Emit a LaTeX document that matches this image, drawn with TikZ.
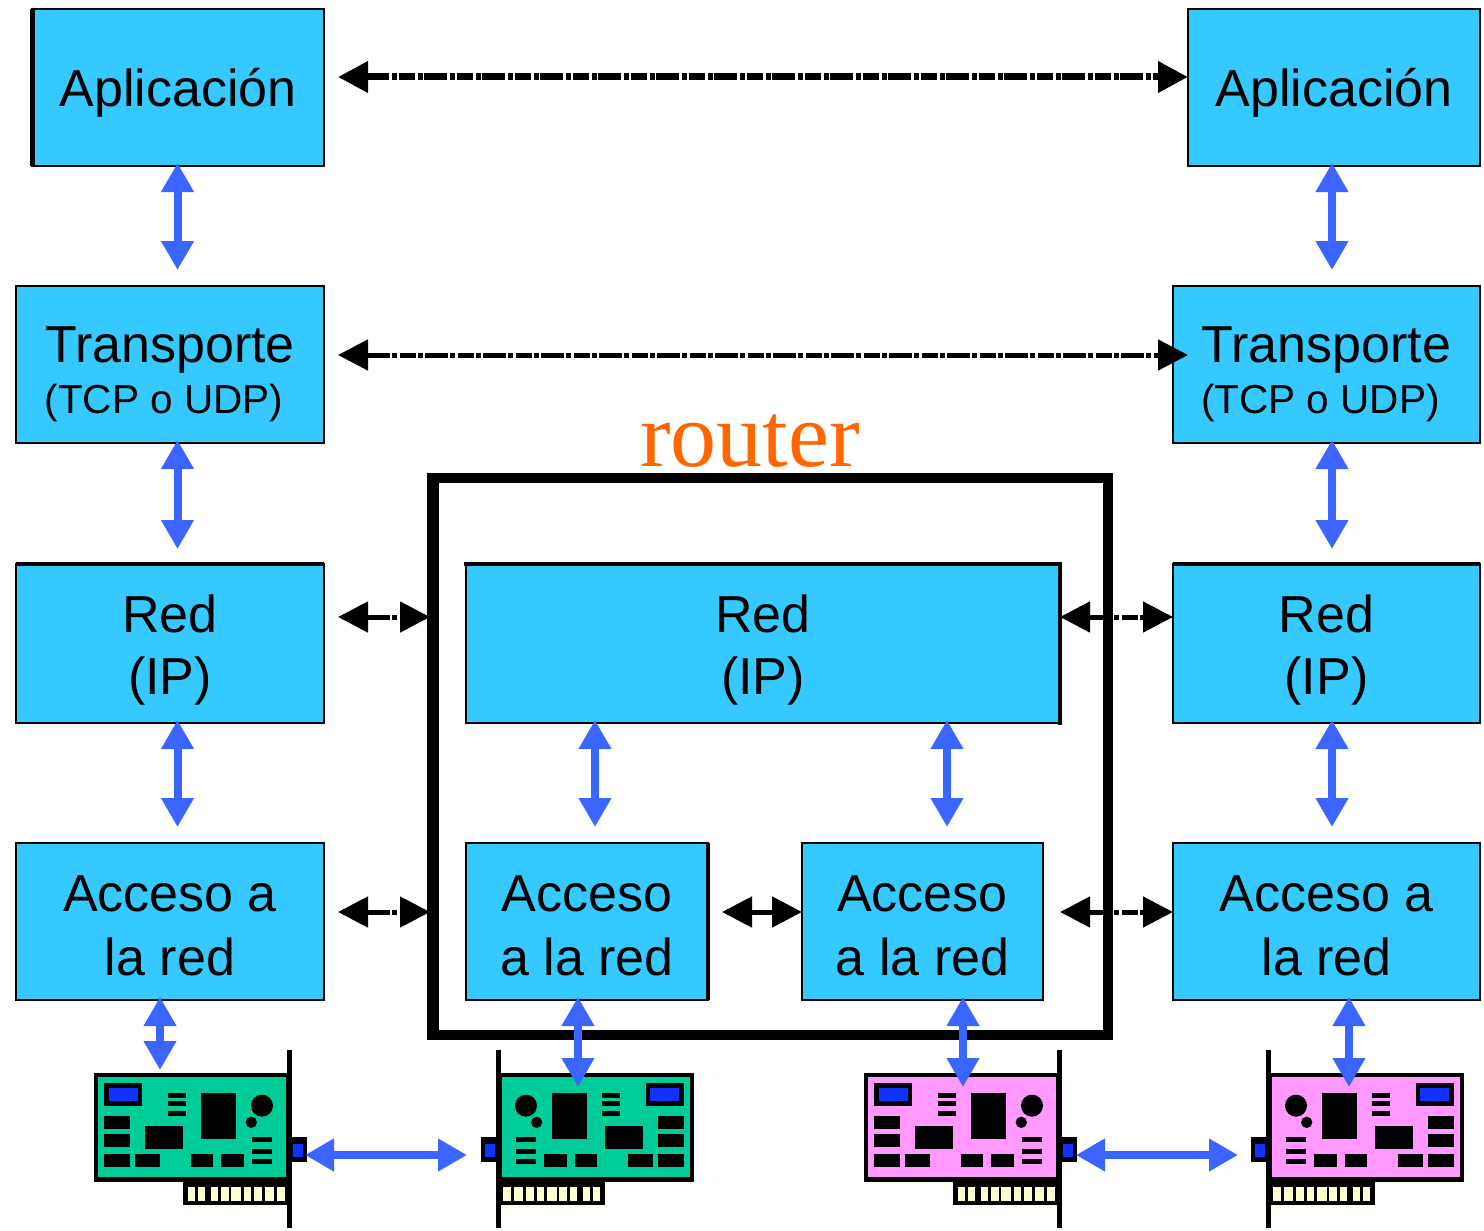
\documentclass[tikz,border=0pt]{standalone}
\usepackage{fontspec}
\setmainfont{Liberation Sans}
\newfontfamily\routerfont{Liberation Serif}
\usetikzlibrary{arrows.meta,calc}
\definecolor{boxblue}{HTML}{36C9FF}
\definecolor{linkblue}{HTML}{3A66FF}
\definecolor{cardgreen}{HTML}{00CC99}
\definecolor{cardpink}{HTML}{FF99FF}
\definecolor{chipblue}{HTML}{1133FF}
\definecolor{pinyellow}{HTML}{FFFFCC}
\definecolor{routerorange}{HTML}{FF6600}
\newcommand{\bigf}{\fontsize{52}{63}\selectfont}
\newcommand{\smallf}{\fontsize{40.5}{45}\selectfont}
\newcommand{\netcard}[3]{%
  \begin{scope}[shift={(#1pt,-1040pt)},x=#2*0.33333pt,y=-0.33333pt]
    \fill[black] (42,98) rectangle (628,426);
    \fill[#3] (55,112) rectangle (617,411);
    \fill[black] (622,30) rectangle (636,565);
    \fill[black] (632,290) rectangle (682,365);
    \fill[chipblue] (638,312) rectangle (668,350);
    \fill[black] (310,420) rectangle (625,495);
    \foreach \a/\b in {323/345,354/376,393/415,424/446,454/483,492/514,523/545,554/583,592/614}
      \fill[pinyellow] (\a,442) rectangle (\b,482);
    \fill[black] (73,130) rectangle (187,197);
    \fill[chipblue] (88,145) rectangle (173,182);
    \foreach \a/\b in {160/175,183/198,213/228}
      \fill[black] (263,\a) rectangle (317,\b);
    \fill[black] (362,160) rectangle (469,297);
    \fill[black] (195,259) rectangle (309,327);
    \foreach \a/\b in {228/266,282/320,343/381}
      \fill[black] (73,\a) rectangle (149,\b);
    \foreach \a/\b in {164/240,332/400,424/492}
      \fill[black] (\a,343) rectangle (\b,381);
    \foreach \a/\b in {290/305,328/343,358/373}
      \fill[black] (515,\a) rectangle (577,\b);
    \fill[black] (546,197) circle[radius=33];
    \fill[black] (514,247) circle[radius=17];
  \end{scope}}
\tikzset{
  boxnode/.style={draw=black,fill=boxblue,line width=2pt,inner sep=0pt,outer sep=0pt,align=center,text=black,font=\bigf},
  framebox/.style={draw=black,line width=10pt,inner sep=0pt,outer sep=0pt,minimum width=675pt,minimum height=557pt},
  bluelink/.style={draw=linkblue,line width=8pt,>={Triangle[length=29pt,width=31pt]},<->,shorten <=-3pt},
  blacklink/.style={draw=black,line width=5pt,>={Triangle[length=30pt,width=30pt]},<->,dash pattern=on 23pt off 2.5pt on 5pt off 2.5pt on 16pt off 2.5pt on 5pt off 1.5pt},
  heavyedge/.style={draw=black,line width=4.5pt},
  routerlabel/.style={anchor=base,text=routerorange,font=\routerfont\fontsize{92}{92}\selectfont,inner sep=0pt}
}
\begin{document}
\begin{tikzpicture}[x=1pt,y=-1pt]
\useasboundingbox (0,0) rectangle (1484,1231);
\fill[white] (0,0) rectangle (1484,1231);
% router frame
\node[framebox] (frame) at (770.5,756.2) {};
\fill[black] (frame.north west) ++(-6,-5) rectangle ([xshift=6pt,yshift=-5pt]frame.south west);
\node[routerlabel] (routertxt) at (750,466) {router};
% left stack
\node[boxnode,minimum width=292pt,minimum height=157pt] (appL) at (178,87.5) {\raisebox{-5pt}[\height][\depth]{Aplicación}};
\draw[black,line width=5pt] (appL.north west) -- (appL.south west);
\node[boxnode,minimum width=308pt,minimum height=157pt] (transL) at (170,364.5) {\rule{0pt}{55pt}Transporte\\[-12pt]\smallf\hspace*{-12pt}(TCP o UDP)};
\node[boxnode,minimum width=308pt,minimum height=159pt] (redL) at (170,643.5) {\rule{0pt}{50pt}Red\\[-1pt](IP)};
\node[boxnode,minimum width=308pt,minimum height=157pt] (accL) at (170,921.5) {\rule{0pt}{44pt}Acceso a\\[1pt]la red};
% right stack
\node[boxnode,minimum width=292pt,minimum height=157pt] (appR) at (1334,87.5) {\raisebox{-5pt}[\height][\depth]{Aplicación}};
\node[boxnode,minimum width=307pt,minimum height=157pt] (transR) at (1326.5,364.5) {\rule{0pt}{55pt}Transporte\\[-12pt]\smallf\hspace*{-12pt}(TCP o UDP)};
\node[boxnode,minimum width=307pt,minimum height=159pt] (redR) at (1326.5,643.5) {\rule{0pt}{50pt}Red\\[-1pt](IP)};
\node[boxnode,minimum width=307pt,minimum height=157pt] (accR) at (1326.5,921.5) {\rule{0pt}{44pt}Acceso a\\[1pt]la red};
% router inside
\node[boxnode,minimum width=594pt,minimum height=159pt] (redM) at (763,643.5) {\rule{0pt}{50pt}Red\\[-1pt](IP)};
\node[boxnode,minimum width=242pt,minimum height=157pt] (accA) at (587,921.5) {\rule{0pt}{44pt}Acceso\\[1pt]a la red};
\node[boxnode,minimum width=241pt,minimum height=157pt] (accB) at (922.5,921.5) {\rule{0pt}{44pt}Acceso\\[1pt]a la red};
% heavier edges
\draw[heavyedge] (redL.north west) -- (redL.north east);
\draw[heavyedge] (redR.north west) -- (redR.north east);
\draw[heavyedge,line cap=rect] (redM.north west) -- (redM.north east) -- (redM.south east);
\draw[heavyedge,line width=3.5pt] (accA.north east) -- (accA.south east);
% cards
\netcard{80}{1}{cardgreen}
\netcard{708}{-1}{cardgreen}
\netcard{850}{1}{cardpink}
\netcard{1478}{-1}{cardpink}
% connector helper coordinates
\coordinate (colL) at (177.5,0);
\coordinate (colR) at (1332,0);
\coordinate (colA) at (595,0);
\coordinate (colB) at (947,0);
\coordinate (rowTop) at (0,77);
\coordinate (rowTrans) at (0,355);
\coordinate (rowRed) at (0,617);
\coordinate (rowAcc) at (0,912);
\coordinate (cardOneTop) at (160,1070);
\coordinate (cardTwoTop) at (578,1087);
\coordinate (cardThreeTop) at (963,1087);
\coordinate (cardFourTop) at (1349,1087);
\coordinate (portOne) at (308,1155);
\coordinate (portTwo) at (467,1155);
\coordinate (portThree) at (1079,1155);
\coordinate (portFour) at (1238,1155);
% blue links
\draw[bluelink] (appL.south -| colL) -- ([yshift=16pt]transL.north -| colL);
\draw[bluelink] (transL.south -| colL) -- ([yshift=15pt]redL.north -| colL);
\draw[bluelink] (redL.south -| colL) -- ([yshift=16pt]accL.north -| colL);
\draw[bluelink] (appR.south -| colR) -- ([yshift=16pt]transR.north -| colR);
\draw[bluelink] (transR.south -| colR) -- ([yshift=15pt]redR.north -| colR);
\draw[bluelink] (redR.south -| colR) -- ([yshift=16pt]accR.north -| colR);
\draw[bluelink] (redM.south -| colA) -- ([yshift=16pt]accA.north -| colA);
\draw[bluelink] (redM.south -| colB) -- ([yshift=16pt]accB.north -| colB);
\draw[bluelink] (accL.south -| cardOneTop) -- (cardOneTop);
\draw[bluelink] (accA.south -| cardTwoTop) -- (cardTwoTop);
\draw[bluelink] (accB.south -| cardThreeTop) -- (cardThreeTop);
\draw[bluelink] (accR.south -| cardFourTop) -- (cardFourTop);
\draw[bluelink] (portOne) -- (portTwo);
\draw[bluelink] (portThree) -- (portFour);
% black links
\draw[blacklink,line width=7pt] ([xshift=14pt]appL.east |- rowTop) -- (appR.west |- rowTop);
\draw[blacklink] ([xshift=14pt]transL.east |- rowTrans) -- ([xshift=15pt]transR.west |- rowTrans);
\draw[blacklink] ([xshift=14pt]redL.east |- rowRed) -- ([xshift=-3pt]frame.west |- rowRed);
\draw[blacklink] ([xshift=14pt]accL.east |- rowAcc) -- ([xshift=-3pt]frame.west |- rowAcc);
\draw[blacklink] (redM.east |- rowRed) -- (redR.west |- rowRed);
\draw[blacklink] ([xshift=17pt]accB.east |- rowAcc) -- (accR.west |- rowAcc);
\draw[blacklink] ([xshift=14pt]accA.east |- rowAcc) -- (accB.west |- rowAcc);
\end{tikzpicture}
\end{document}
